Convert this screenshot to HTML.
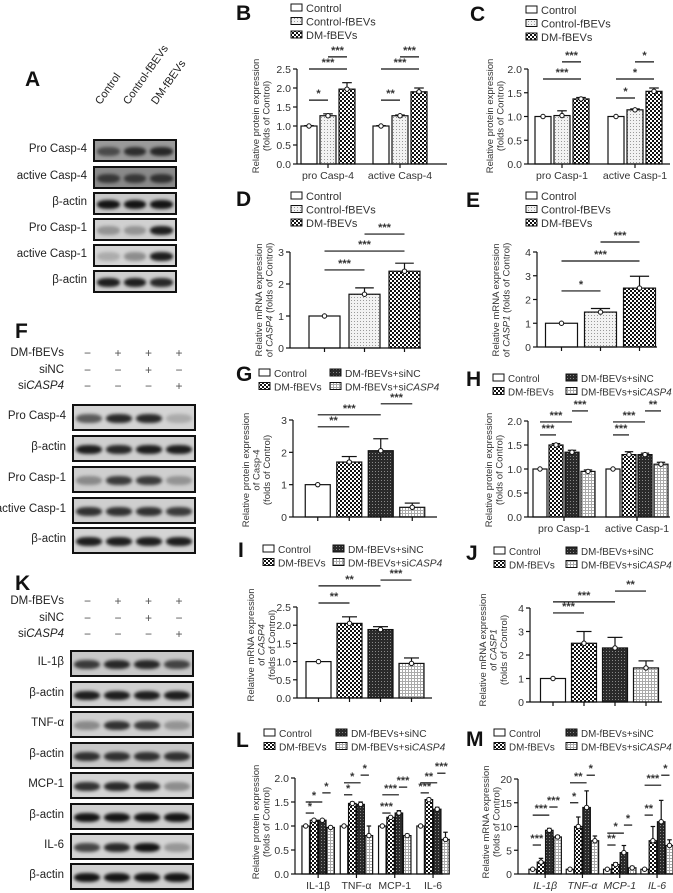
<!DOCTYPE html>
<html><head><meta charset="utf-8">
<style>
body{margin:0;background:#fff;}
#root{position:relative;width:673px;height:893px;overflow:hidden;font-family:"Liberation Sans",Arial,sans-serif;}
svg{position:absolute;left:0;top:0;}
.blot{position:absolute;border:2px solid #111;box-sizing:border-box;overflow:hidden;}
.band{position:absolute;border-radius:45%;filter:blur(1.5px);}
.bl{position:absolute;font-size:11.5px;color:#222;text-align:right;white-space:nowrap;}
.letter{position:absolute;font-size:21px;font-weight:bold;color:#111;}
.sign{position:absolute;font-size:12px;color:#555;}
</style></head>
<body>
<div id="root">
<svg id="chart" width="673" height="893">
<defs>
<pattern id="pDots" width="3" height="3" patternUnits="userSpaceOnUse"><rect width="3" height="3" fill="#f2f2f2"/><rect width="1" height="1" fill="#999"/></pattern>
<pattern id="pCheck" width="4" height="4" patternUnits="userSpaceOnUse"><rect width="4" height="4" fill="#fff"/><rect width="2" height="2" fill="#111"/><rect x="2" y="2" width="2" height="2" fill="#111"/></pattern>
<pattern id="pDark" width="3" height="3" patternUnits="userSpaceOnUse"><rect width="3" height="3" fill="#2a2a2a"/><rect width="1" height="1" fill="#888"/></pattern>
<pattern id="pLight" width="3" height="3" patternUnits="userSpaceOnUse"><rect width="3" height="3" fill="#fff"/><rect width="3" height="1" fill="#aaa"/><rect width="1" height="3" fill="#aaa"/></pattern>
</defs>
</svg>
</div>
<script>
// ---------- DATA ----------
const B_cats=["pro Casp-4","active Casp-4"];
const B_ctrl=[1,1], B_cf=[1.27,1.27], B_dm=[1.97,1.9];
const B_ctrlErr=[0.01,0.01], B_cfErr=[0.05,0.02], B_dmErr=[0.17,0.1];
const B_sig=[[0,0,1,1.68,"*"],[0,0,2,2.5,"***"],[0,1,2,2.82,"***"],[1,0,1,1.68,"**"],[1,0,2,2.5,"***"],[1,1,2,2.82,"***"]];

const C_cats=["pro Casp-1","active Casp-1"];
const C_ctrl=[1,1], C_cf=[1.02,1.14], C_dm=[1.37,1.53];
const C_ctrlErr=[0,0], C_cfErr=[0.1,0.02], C_dmErr=[0.03,0.07];
const C_sig=[[0,0,2,1.79,"***"],[0,1,2,2.15,"***"],[1,0,1,1.39,"*"],[1,0,2,1.79,"*"],[1,1,2,2.15,"*"]];

const D_vals=[1,1.68,2.4], D_err=[0,0.2,0.25];
const D_sig=[[0,0,1,2.44,"***"],[0,0,2,3.03,"***"],[0,1,2,3.56,"***"]];
const E_vals=[1,1.47,2.48], E_err=[0,0.15,0.5];
const E_sig=[[0,0,1,2.36,"*"],[0,0,2,3.62,"***"],[0,1,2,4.42,"***"]];

const G_vals=[1,1.7,2.05,0.3], G_err=[0,0.17,0.37,0.13];
const G_sig=[[0,0,1,2.79,"**"],[0,0,2,3.16,"***"],[0,2,3,3.5,"***"]];

const H_cats=["pro Casp-1","active Casp-1"];
const H_ctrl=[1,1], H_dm=[1.5,1.3], H_nc=[1.35,1.3], H_si=[0.95,1.1];
const H_ctrlErr=[0,0], H_dmErr=[0.03,0.06], H_ncErr=[0.04,0.03], H_siErr=[0.03,0.04];
const H_sig=[[0,0,1,1.71,"***"],[0,0,2,1.98,"***"],[0,2,3,2.21,"***"],[1,0,1,1.71,"***"],[1,0,2,1.98,"***"],[1,2,3,2.21,"**"]];

const I_vals=[1,2.05,1.88,0.95], I_err=[0,0.18,0.08,0.15];
const I_sig=[[0,0,1,2.61,"**"],[0,0,2,3.08,"**"],[0,2,3,3.24,"***"]];
const J_vals=[1,2.5,2.3,1.45], J_err=[0,0.5,0.45,0.3];
const J_sig=[[0,0,1,3.79,"***"],[0,0,2,4.26,"***"],[0,2,3,4.72,"**"]];

const L_cats=["IL-1β","TNF-α","MCP-1","IL-6"];
const L_ctrl=[1,1,1,1], L_dm=[1.12,1.47,1.18,1.55], L_nc=[1.12,1.45,1.27,1.35], L_si=[0.97,0.8,0.8,0.72];
const L_ctrlErr=[0,0,0,0], L_dmErr=[0.02,0.03,0.02,0.03], L_ncErr=[0.02,0.05,0.05,0.04], L_siErr=[0.02,0.2,0.03,0.15];
const L_sig=[[0,0,1,1.27,"*"],[0,0,2,1.5,"*"],[0,2,3,1.69,"*"],[1,0,1,1.65,"*"],[1,0,2,1.9,"*"],[1,2,3,2.06,"*"],[2,0,1,1.27,"***"],[2,0,2,1.65,"***"],[2,2,3,1.81,"***"],[3,0,1,1.69,"***"],[3,0,2,1.9,"**"],[3,2,3,2.1,"***"]];

const M_cats=["IL-1β","TNF-α","MCP-1","IL-6"];
const M_ctrl=[1,1,1,1], M_dm=[2.5,10,2,7], M_nc=[9.2,14,4.5,11], M_si=[7.8,7,1.3,6];
const M_ctrlErr=[0,0,0,0], M_dmErr=[0.8,2,0.4,3], M_ncErr=[0.4,3.5,1.5,4.5], M_siErr=[0.3,1,0.3,1.2];
const M_sig=[[0,0,1,6.1,"***"],[0,0,2,12.4,"***"],[0,2,3,14.1,"***"],[1,0,1,15,"*"],[1,0,2,19.2,"**"],[1,2,3,20.8,"*"],[2,0,1,6.1,"**"],[2,0,2,8.6,"*"],[2,2,3,10.3,"*"],[3,0,1,12.4,"**"],[3,0,2,18.7,"***"],[3,2,3,20.8,"*"]];

// ---------- DRAW ----------
const NS="http://www.w3.org/2000/svg";
const svg=document.getElementById("chart");
function mk(tag,attrs,parent){const e=document.createElementNS(NS,tag);for(const k in attrs)e.setAttribute(k,attrs[k]);(parent||svg).appendChild(e);return e;}
function txt(x,y,s,attrs,parent){const t=mk("text",Object.assign({x:x,y:y,"font-size":11,fill:"#333","font-family":"Liberation Sans, sans-serif"},attrs||{}),parent);t.textContent=s;return t;}

function chart(c){
  const g=mk("g",{});
  
  
  const yS=v=>c.y0-(v/c.ymax)*(c.y0-c.yTop);
  const nS=c.series.length;
  const gw=nS*c.bw+(nS-1)*c.gap;
  const bx=(gi,si)=>c.gx0+c.band*(gi+0.5)-gw/2+si*(c.bw+c.gap);
  c.series.forEach((s,si)=>{
    s.vals.forEach((v,gi)=>{
      const x=bx(gi,si);
      const r=mk("rect",{x:x,y:yS(v),width:c.bw,height:c.y0-yS(v),fill:s.pat,stroke:"#111","stroke-width":1.2},g);
      
      
      const e=s.err[gi], cx=x+c.bw/2;
      if(e>0){
        mk("line",{x1:cx,x2:cx,y1:yS(v),y2:yS(v+e),stroke:"#111","stroke-width":1.2},g);
        mk("line",{x1:cx-c.bw*0.3,x2:cx+c.bw*0.3,y1:yS(v+e),y2:yS(v+e),stroke:"#111","stroke-width":1.2},g);
      }
      mk("circle",{cx:cx,cy:yS(v),r:2.2,fill:"#fff",stroke:"#111","stroke-width":1},g);
    });
  });
  mk("line",{x1:c.ax,x2:c.ax,y1:c.y0,y2:c.yTop,stroke:"#111","stroke-width":1.2},g);
  mk("line",{x1:c.ax,x2:c.axEnd,y1:c.y0,y2:c.y0,stroke:"#111","stroke-width":1.2},g);
  c.ticks.forEach(t=>{
    mk("line",{x1:c.ax-4,x2:c.ax,y1:yS(t),y2:yS(t),stroke:"#111","stroke-width":1.2},g);
    const l=txt(c.ax-6,yS(t)+4,t.toFixed(c.dec),{"text-anchor":"end","font-size":10.5},g);
    
    
  });
  if(c.cats){
    c.cats.forEach((cat,gi)=>{
      const cx=c.gx0+c.band*(gi+0.5);
      mk("line",{x1:cx,x2:cx,y1:c.y0,y2:c.y0+4,stroke:"#111","stroke-width":1.2},g);
      const l=txt(cx,c.y0+15,cat,{"text-anchor":"middle","font-size":10.5,"font-style":c.italic?"italic":"normal"},g);
      
      
    });
  } else {
    c.series.forEach((s,si)=>{const cx=bx(0,si)+c.bw/2;mk("line",{x1:cx,x2:cx,y1:c.y0,y2:c.y0+4,stroke:"#111","stroke-width":1.2},g);});
  }
  c.sig.forEach(sg=>{
    const [gi,a,b,v,s]=sg;
    const x1=bx(gi,a)+c.bw/2, x2=bx(gi,b)+c.bw/2, y=yS(v);
    mk("line",{x1:x1,x2:x2,y1:y,y2:y,stroke:"#111","stroke-width":1.2},g);
    const t=txt((x1+x2)/2,y-3,s,{"text-anchor":"middle","font-size":11,"font-weight":"bold"},g);
    
    
  });
  c.title.forEach((ln,i)=>{
    const x=c.tx+i*10.5;
    const t=mk("text",{x:0,y:0,"font-size":9.5,fill:"#333","text-anchor":"middle","font-family":"Liberation Sans, sans-serif",transform:`translate(${x},${c.ty}) rotate(-90)`},g);
    ln.forEach(part=>{const sp=mk("tspan",{"font-style":part[1]?"italic":"normal"},t);sp.textContent=part[0];});
    
    
  });
}
const P=x=>[[x,false]];
const T2=[P("Relative protein expression"),P("(folds of Control)")];

chart({name:"chart-b",ax:297,axEnd:447,y0:164,yTop:69,ymax:2.5,ticks:[0,0.5,1,1.5,2,2.5],dec:1,cats:B_cats,gx0:292,band:72,bw:16,gap:3,
  series:[{vals:B_ctrl,err:B_ctrlErr,pat:"#fff"},{vals:B_cf,err:B_cfErr,pat:"url(#pDots)"},{vals:B_dm,err:B_dmErr,pat:"url(#pCheck)"}],sig:B_sig,title:T2,tx:259,ty:116});
chart({name:"chart-c",ax:528,axEnd:670,y0:164,yTop:69,ymax:2,ticks:[0,0.5,1,1.5,2],dec:1,cats:C_cats,gx0:525.5,band:73,bw:16,gap:3,
  series:[{vals:C_ctrl,err:C_ctrlErr,pat:"#fff"},{vals:C_cf,err:C_cfErr,pat:"url(#pDots)"},{vals:C_dm,err:C_dmErr,pat:"url(#pCheck)"}],sig:C_sig,title:T2,tx:493,ty:116});
chart({name:"chart-d",ax:290,axEnd:421,y0:348,yTop:252,ymax:3,ticks:[0,1,2,3],dec:0,gx0:289.5,band:150,bw:31,gap:9,
  series:[{vals:[D_vals[0]],err:[D_err[0]],pat:"#fff"},{vals:[D_vals[1]],err:[D_err[1]],pat:"url(#pDots)"},{vals:[D_vals[2]],err:[D_err[2]],pat:"url(#pCheck)"}],sig:D_sig,title:[P("Relative mRNA expression"),[["of ",false],["CASP4",true],[" (folds of Control)",false]]],tx:262,ty:300});
chart({name:"chart-e",ax:537,axEnd:657,y0:347,yTop:252,ymax:4,ticks:[0,1,2,3,4],dec:0,gx0:525.5,band:150,bw:32,gap:7,
  series:[{vals:[E_vals[0]],err:[E_err[0]],pat:"#fff"},{vals:[E_vals[1]],err:[E_err[1]],pat:"url(#pDots)"},{vals:[E_vals[2]],err:[E_err[2]],pat:"url(#pCheck)"}],sig:E_sig,title:[P("Relative mRNA expression"),[["of ",false],["CASP1",true],[" (folds of Control)",false]]],tx:499,ty:300});
const pats4=["#fff","url(#pCheck)","url(#pDark)","url(#pLight)"];
chart({name:"chart-g",ax:293,axEnd:437,y0:517,yTop:420,ymax:3,ticks:[0,1,2,3],dec:0,gx0:295,band:140,bw:25,gap:6.5,
  series:G_vals.map((v,i)=>({vals:[v],err:[G_err[i]],pat:pats4[i]})),sig:G_sig,title:[P("Relative protein expression"),P("of Casp-4"),P("(folds of Control)")],tx:249,ty:470});
chart({name:"chart-h",ax:528,axEnd:670,y0:517,yTop:421,ymax:2,ticks:[0,0.5,1,1.5,2],dec:1,cats:H_cats,gx0:527.5,band:73,bw:14,gap:2,
  series:[{vals:H_ctrl,err:H_ctrlErr,pat:pats4[0]},{vals:H_dm,err:H_dmErr,pat:pats4[1]},{vals:H_nc,err:H_ncErr,pat:pats4[2]},{vals:H_si,err:H_siErr,pat:pats4[3]}],sig:H_sig,title:T2,tx:492,ty:470});
chart({name:"chart-i",ax:297,axEnd:432,y0:698,yTop:607,ymax:2.5,ticks:[0,0.5,1,1.5,2,2.5],dec:1,gx0:295,band:140,bw:25,gap:6,
  series:I_vals.map((v,i)=>({vals:[v],err:[I_err[i]],pat:pats4[i]})),sig:I_sig,title:[P("Relative mRNA expression"),[["of ",false],["CASP4",true]],P("(folds of Control)")],tx:254,ty:645});
chart({name:"chart-j",ax:530,axEnd:662,y0:702,yTop:608,ymax:4,ticks:[0,1,2,3,4],dec:0,gx0:529.5,band:140,bw:25,gap:6,
  series:J_vals.map((v,i)=>({vals:[v],err:[J_err[i]],pat:pats4[i]})),sig:J_sig,title:[P("Relative mRNA expression"),[["of ",false],["CASP1",true]],P("(folds of Control)")],tx:486,ty:650});
chart({name:"chart-l",ax:295,axEnd:443,y0:874,yTop:778,ymax:2,ticks:[0,0.5,1,1.5,2],dec:1,cats:L_cats,gx0:299,band:38.3,bw:7.5,gap:0.8,
  series:[{vals:L_ctrl,err:L_ctrlErr,pat:pats4[0]},{vals:L_dm,err:L_dmErr,pat:pats4[1]},{vals:L_nc,err:L_ncErr,pat:pats4[2]},{vals:L_si,err:L_siErr,pat:pats4[3]}],sig:L_sig,title:T2,tx:259,ty:822});
chart({name:"chart-m",ax:518,axEnd:673,y0:874,yTop:779,ymax:20,ticks:[0,5,10,15,20],dec:0,cats:M_cats,italic:true,gx0:526.5,band:37.3,bw:7.5,gap:0.8,
  series:[{vals:M_ctrl,err:M_ctrlErr,pat:pats4[0]},{vals:M_dm,err:M_dmErr,pat:pats4[1]},{vals:M_nc,err:M_ncErr,pat:pats4[2]},{vals:M_si,err:M_siErr,pat:pats4[3]}],sig:M_sig,title:[P("Relative mRNA expression"),P("(folds of Control)")],tx:489,ty:822});

function legend(x,y,items,cols,colW,fs){
  items.forEach((it,i)=>{
    const cx=x+(cols>1?(i%cols)*colW:0), cy=y+(cols>1?Math.floor(i/cols):i)*13.5;
    const r=mk("rect",{x:cx,y:cy-4,width:11,height:7,fill:it[1],stroke:"#111","stroke-width":1});
    
    
    const t=txt(cx+15,cy+4,"",{"font-size":fs});
    it[0].forEach(p=>{const s=mk("tspan",{"font-style":p[1]?"italic":"normal"},t);s.textContent=p[0];});
    
    
  });
}
const L3=[[P("Control"),"#fff"],[P("Control-fBEVs"),"url(#pDots)"],[P("DM-fBEVs"),"url(#pCheck)"]];
const L4=[[P("Control"),"#fff"],[P("DM-fBEVs+siNC"),"url(#pDark)"],[P("DM-fBEVs"),"url(#pCheck)"],[[["DM-fBEVs+si",false],["CASP4",true]],"url(#pLight)"]];
legend(291,8,L3,1,0,11);legend(526,10,L3,1,0,11);legend(291,196,L3,1,0,11);legend(526,196,L3,1,0,11);
legend(259,373,L4,2,71,10.2);legend(493,378,L4,2,73,9.8);legend(263,549,L4,2,70,10.2);legend(494,551,L4,2,72,9.8);
legend(264,733,L4,2,72,10.2);legend(494,733,L4,2,72,9.8);

[["B",236,20],["C",470,21],["D",236,206],["E",466,207],["G",236,381],["H",466,386],["I",238,557],["J",466,560],["L",236,747],["M",466,746]].forEach(l=>{
  const t=txt(l[1],l[2],l[0],{"font-size":21,"font-weight":"bold",fill:"#111"});
  
  
});

// ---------- BLOTS ----------
const root=document.getElementById("root");
function div(cls,style,text,name){const d=document.createElement("div");d.className=cls;Object.assign(d.style,style);if(text!==undefined)d.innerHTML=text;
  
  
  root.appendChild(d);return d;}
function blotRow(x,y,w,h,label,bg,ints,labelRight){
  const b=div("blot",{left:x+"px",top:y+"px",width:w+"px",height:h+"px",background:bg},undefined,"blot-strip");
  const n=ints.length, lw=(w-4)/n;
  ints.forEach((v,i)=>{
    const band=document.createElement("div");band.className="band";
    
    
    Object.assign(band.style,{left:(i*lw+lw*0.08)+"px",width:(lw*0.84)+"px",top:(h/2-6)+"px",height:"9px",background:`rgba(10,10,10,${v})`});
    b.appendChild(band);
  });
  div("bl",{right:(673-labelRight)+"px",top:(y+h/2-8)+"px",fontSize:"11.5px"},label,"blot-label");
}
div("letter",{left:"25px",top:"68px"},"A","panel-label-a");
["Control","Control-fBEVs","DM-fBEVs"].forEach((s,i)=>div("bl",{left:(103+i*28)+"px",top:"95px",transform:"rotate(-55deg)",transformOrigin:"left bottom",fontSize:"11px",textAlign:"left"},s,"lane-label"));
const A_rows=[["Pro Casp-4","#9a9a9a",[0.55,0.75,0.8]],["active Casp-4","#8a8a8a",[0.65,0.65,0.7]],["β-actin","#c8c8c8",[0.95,0.95,0.95]],["Pro Casp-1","#d0d0d0",[0.3,0.3,0.9]],["active Casp-1","#d5d5d5",[0.2,0.35,0.9]],["β-actin","#cfcfcf",[0.9,0.9,0.85]]];
const A_y=[139,166,192,218,244,270];
A_rows.forEach((r,i)=>blotRow(93,A_y[i],84,23,r[0],r[1],r[2],87));
div("letter",{left:"15px",top:"320px"},"F","panel-label-f");
function signs(y0){
  const rows=[["DM-fBEVs",["−","+","+","+"]],["siNC",["−","−","+","−"]],["si<i>CASP4</i>",["−","−","−","+"]]];
  rows.forEach((r,ri)=>{
    div("bl",{right:(673-64)+"px",top:(y0+ri*16.5-8)+"px",fontSize:"11.5px"},r[0],"treatment-label");
    r[1].forEach((s,ci)=>div("sign",{left:(84+ci*30.5)+"px",top:(y0+ri*16.5-9)+"px"},s,"treatment-sign"));
  });
}
signs(355);
const F_rows=[["Pro Casp-4","#d4d4d4",[0.6,0.85,0.85,0.2]],["β-actin","#cfcfcf",[0.9,0.85,0.9,0.9]],["Pro Casp-1","#cfcfcf",[0.35,0.75,0.75,0.3]],["active Casp-1","#cfcfcf",[0.8,0.8,0.8,0.75]],["β-actin","#d4d4d4",[0.9,0.9,0.9,0.9]]];
const F_y=[404,435,466,497,527];
F_rows.forEach((r,i)=>blotRow(72,F_y[i],124,27,r[0],r[1],r[2],66));
div("letter",{left:"15px",top:"572px"},"K","panel-label-k");
signs(603);
const K_rows=[["IL-1β","#c8c8c8",[0.75,0.85,0.85,0.7]],["β-actin","#d0d0d0",[0.9,0.9,0.9,0.9]],["TNF-α","#d0d0d0",[0.35,0.8,0.75,0.3]],["β-actin","#c8c8c8",[0.8,0.8,0.8,0.8]],["MCP-1","#d4d4d4",[0.8,0.85,0.85,0.35]],["β-actin","#d0d0d0",[0.95,0.95,0.95,0.95]],["IL-6","#d4d4d4",[0.7,0.85,0.95,0.3]],["β-actin","#d0d0d0",[0.95,0.95,0.95,0.95]]];
const K_y=[650,681,711,742,772,803,833,863];
K_rows.forEach((r,i)=>blotRow(70,K_y[i],124,27,r[0],r[1],r[2],64));
</script>
</body></html>
